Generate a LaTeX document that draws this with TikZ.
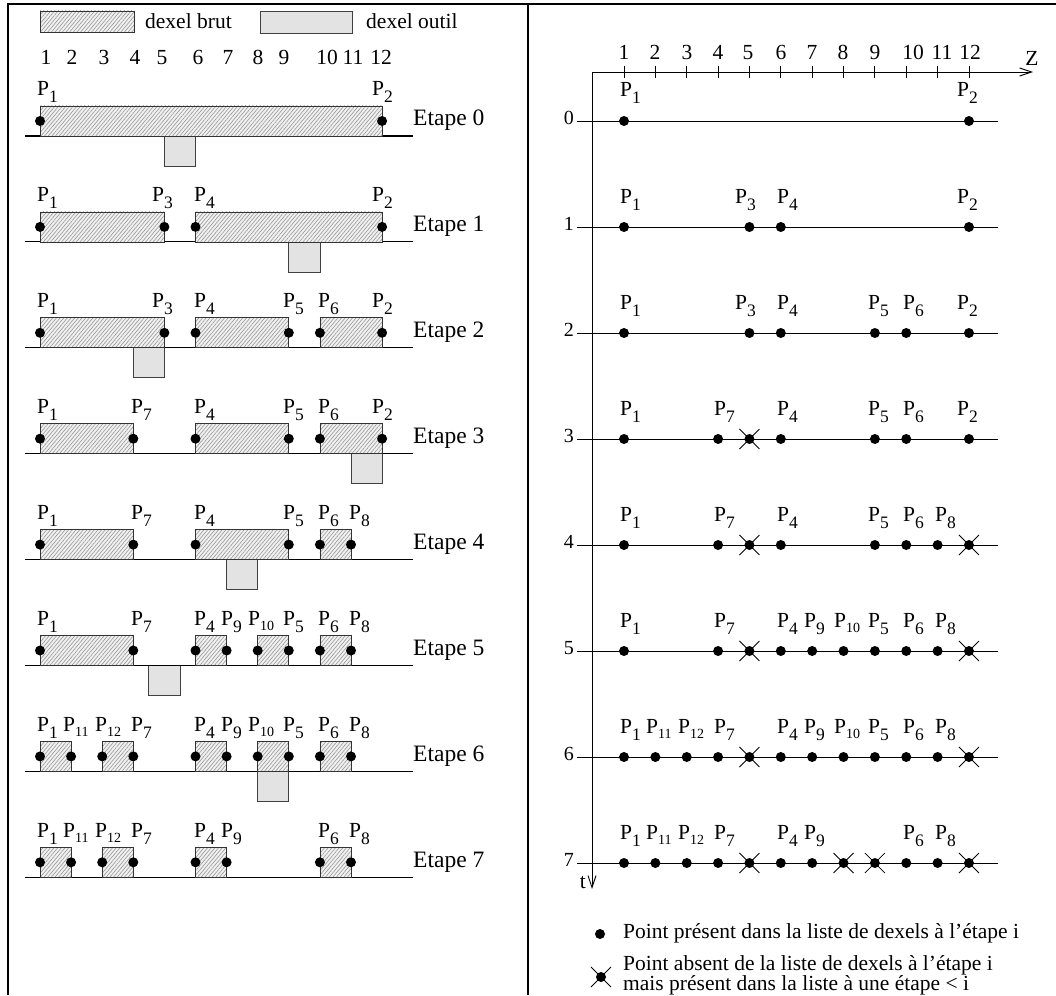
\documentclass[tikz,border=0pt]{standalone}
\usepackage{fontspec}
\setmainfont{Liberation Serif}
\usetikzlibrary{patterns.meta,arrows.meta}
\newcommand\sbs[1]{\raisebox{-7pt}{\fontsize{17.5}{18}\selectfont #1}}
\newcommand\sbt[1]{\raisebox{-5pt}{\fontsize{14}{14}\selectfont #1}}
\newcommand\Pn[1]{P\ifnum#1>9 \sbt{#1}\else\sbs{#1}\fi}
\tikzset{
  frame/.style={line width=1.4pt},
  baseln/.style={line width=1.1pt},
  rowline/.style={line width=0.9pt},
  axis/.style={line width=0.9pt},
  brut/.style={draw=black!80, line width=0.7pt, preaction={fill=gray!12},
     pattern={Lines[angle=50,distance=2.8pt,line width=0.55pt]}, pattern color=gray!85},
  outil/.style={draw=black!75, line width=0.8pt, fill=gray!22},
  pt/.style={circle, fill=black, inner sep=0pt, minimum size=10pt},
  xmark/.style={line width=0.8pt},
  txt/.style={inner sep=0pt, font=\fontsize{21.5}{24}\selectfont},
  plab/.style={inner sep=0pt, font=\fontsize{21.5}{24}\selectfont},
  etape/.style={inner sep=0pt, font=\fontsize{23.5}{26}\selectfont},
  rowlab/.style={inner sep=0pt, font=\fontsize{20}{22}\selectfont}
}
\begin{document}
\begin{tikzpicture}[x=1pt,y=-1pt]
\useasboundingbox (0,0) rectangle (1056,995);
% frame
\coordinate (ftl) at (8,4); \coordinate (ftr) at (1056,4); \coordinate (fbl) at (8,995);
\coordinate (mt) at (528,4); \coordinate (mb) at (528,995);
\draw[frame] (fbl) -- (ftl) -- (ftr);
\draw[frame] (mt) -- (mb);
% legend top left
\path[brut] (40,11) rectangle (134,32);
\node[txt, anchor=base west] (lgb) at (145,29) {dexel brut};
\path[outil] (260,11) rectangle (352,33);
\node[txt, anchor=base west] (lgo) at (366,29) {dexel outil};
% numbers left
\foreach \n/\x in {1/46,2/72,3/104,4/135,5/162,6/198,7/228,8/258,9/284,10/327,11/353,12/381}
  \node[txt, anchor=base] (ln\n) at (\x,65) {\n};
% tools
\foreach \k/\T in {0/5,1/9,2/4,3/11,4/7,5/4.5,6/8}{
  \pgfmathsetmacro\yb{136+105.9*\k}
  \path[outil] ({40+(\T-1)*31.1},\yb) rectangle ({40+\T*31.1},{\yb+30});
}
% left rows
\def\lxarr{{0,37,372,152,194,283,318,131,349,221,248,63,95}}
\foreach \k/\R/\L in {
  0/{1/12}/{1,2},
  1/{1/5,6/12}/{1,3,4,2},
  2/{1/5,6/9,10/12}/{1,3,4,5,6,2},
  3/{1/4,6/9,10/12}/{1,7,4,5,6,2},
  4/{1/4,6/9,10/11}/{1,7,4,5,6,8},
  5/{1/4,6/7,8/9,10/11}/{1,7,4,9,10,5,6,8},
  6/{1/2,3/4,6/7,8/9,10/11}/{1,11,12,7,4,9,10,5,6,8},
  7/{1/2,3/4,6/7,10/11}/{1,11,12,7,4,9,6,8}}{
  \pgfmathsetmacro\yb{136+105.9*\k}
  \coordinate (bs\k) at (25,\yb); \coordinate (be\k) at (413,\yb);
  \draw[baseln] (bs\k) -- (be\k);
  \foreach \a/\b in \R {
    \path[brut] ({40+(\a-1)*31.1},{\yb-30}) rectangle ({40+(\b-1)*31.1},\yb);
    \node[pt] (ld\k-\a) at ({40+(\a-1)*31.1},{\yb-15}) {};
    \node[pt] (ld\k-\b) at ({40+(\b-1)*31.1},{\yb-15}) {};
  }
  \foreach \n in \L {
    \pgfmathsetmacro\xx{\lxarr[\n]}
    \node[plab, anchor=base west] (lp\k-\n) at (\xx,{\yb-40}) {\Pn{\n}};
  }
  \node[etape, anchor=base west] (et\k) at (413,{\yb-10}) {Etape \k};
}
% right axes
\coordinate (O) at (592,72); \coordinate (Zend) at (1033,72); \coordinate (Tend) at (592,889);
\draw[axis, -{Straight Barb[length=12pt,width=8pt]}] (O) -- (Zend);
\draw[axis, -{Straight Barb[length=12pt,width=8pt]}] (O) -- (Tend);
\node[txt] (zl) at (1032,58) {Z};
\node[txt, anchor=base east] (tl) at (586,888) {t};
\foreach \i in {1,...,12}
  \draw[axis] ({624+(\i-1)*31.36},66) -- ({624+(\i-1)*31.36},78);
\foreach \n/\x in {1/624,2/655,3/687,4/718,5/748,6/781,7/812,8/843,9/875,10/913,11/942,12/970}
  \node[txt, anchor=base] (rn\n) at (\x,60) {\n};
% right rows
\def\rxarr{{0,620,957,735,777,868,903,714,935,804,834,646,678}}
\foreach \k/\D/\L in {
  0/{1,12}/{1,2},
  1/{1,5,6,12}/{1,3,4,2},
  2/{1,5,6,9,10,12}/{1,3,4,5,6,2},
  3/{1,4,5,6,9,10,12}/{1,7,4,5,6,2},
  4/{1,4,5,6,9,10,11,12}/{1,7,4,5,6,8},
  5/{1,4,5,6,7,8,9,10,11,12}/{1,7,4,9,10,5,6,8},
  6/{1,2,3,4,5,6,7,8,9,10,11,12}/{1,11,12,7,4,9,10,5,6,8},
  7/{1,2,3,4,5,6,7,8,9,10,11,12}/{1,11,12,7,4,9,6,8}}{
  \pgfmathsetmacro\yr{121+106*\k}
  \coordinate (rs\k) at (577,\yr); \coordinate (re\k) at (998,\yr);
  \draw[rowline] (rs\k) -- (re\k);
  \node[rowlab, anchor=east] (rl\k) at (574,{\yr-3}) {\k};
  \foreach \i in \D {
    \node[pt] (rd\k-\i) at ({624+(\i-1)*31.36},\yr) {};
  }
  \foreach \n in \L {
    \pgfmathsetmacro\xx{\rxarr[\n]}
    \node[plab, anchor=base west] (rp\k-\n) at (\xx,{\yr-24}) {\Pn{\n}};
  }
}
\foreach \k/\i in {3/5,4/5,4/12,5/5,5/12,6/5,6/12,7/5,7/8,7/9,7/12}{
  \draw[xmark] ([shift={(-10,-10)}]rd\k-\i.center) -- ([shift={(10,10)}]rd\k-\i.center);
  \draw[xmark] ([shift={(-10,10)}]rd\k-\i.center) -- ([shift={(10,-10)}]rd\k-\i.center);
}
% legend bottom right
\node[pt] (lgd) at (600,934) {};
\node[txt, anchor=base west] (lgdt) at (623,938) {Point présent dans la liste de dexels à l’étape i};
\node[pt] (lgx) at (601,977) {};
\draw[xmark] ([shift={(-10,-10)}]lgx.center) -- ([shift={(10,10)}]lgx.center);
\draw[xmark] ([shift={(-10,10)}]lgx.center) -- ([shift={(10,-10)}]lgx.center);
\node[txt, anchor=north west, align=left, font=\fontsize{21.5}{18.5}\selectfont] (lgxt) at (623,955)
  {Point absent de la liste de dexels à l’étape i\\mais présent dans la liste à une étape < i};
\end{tikzpicture}
\end{document}
